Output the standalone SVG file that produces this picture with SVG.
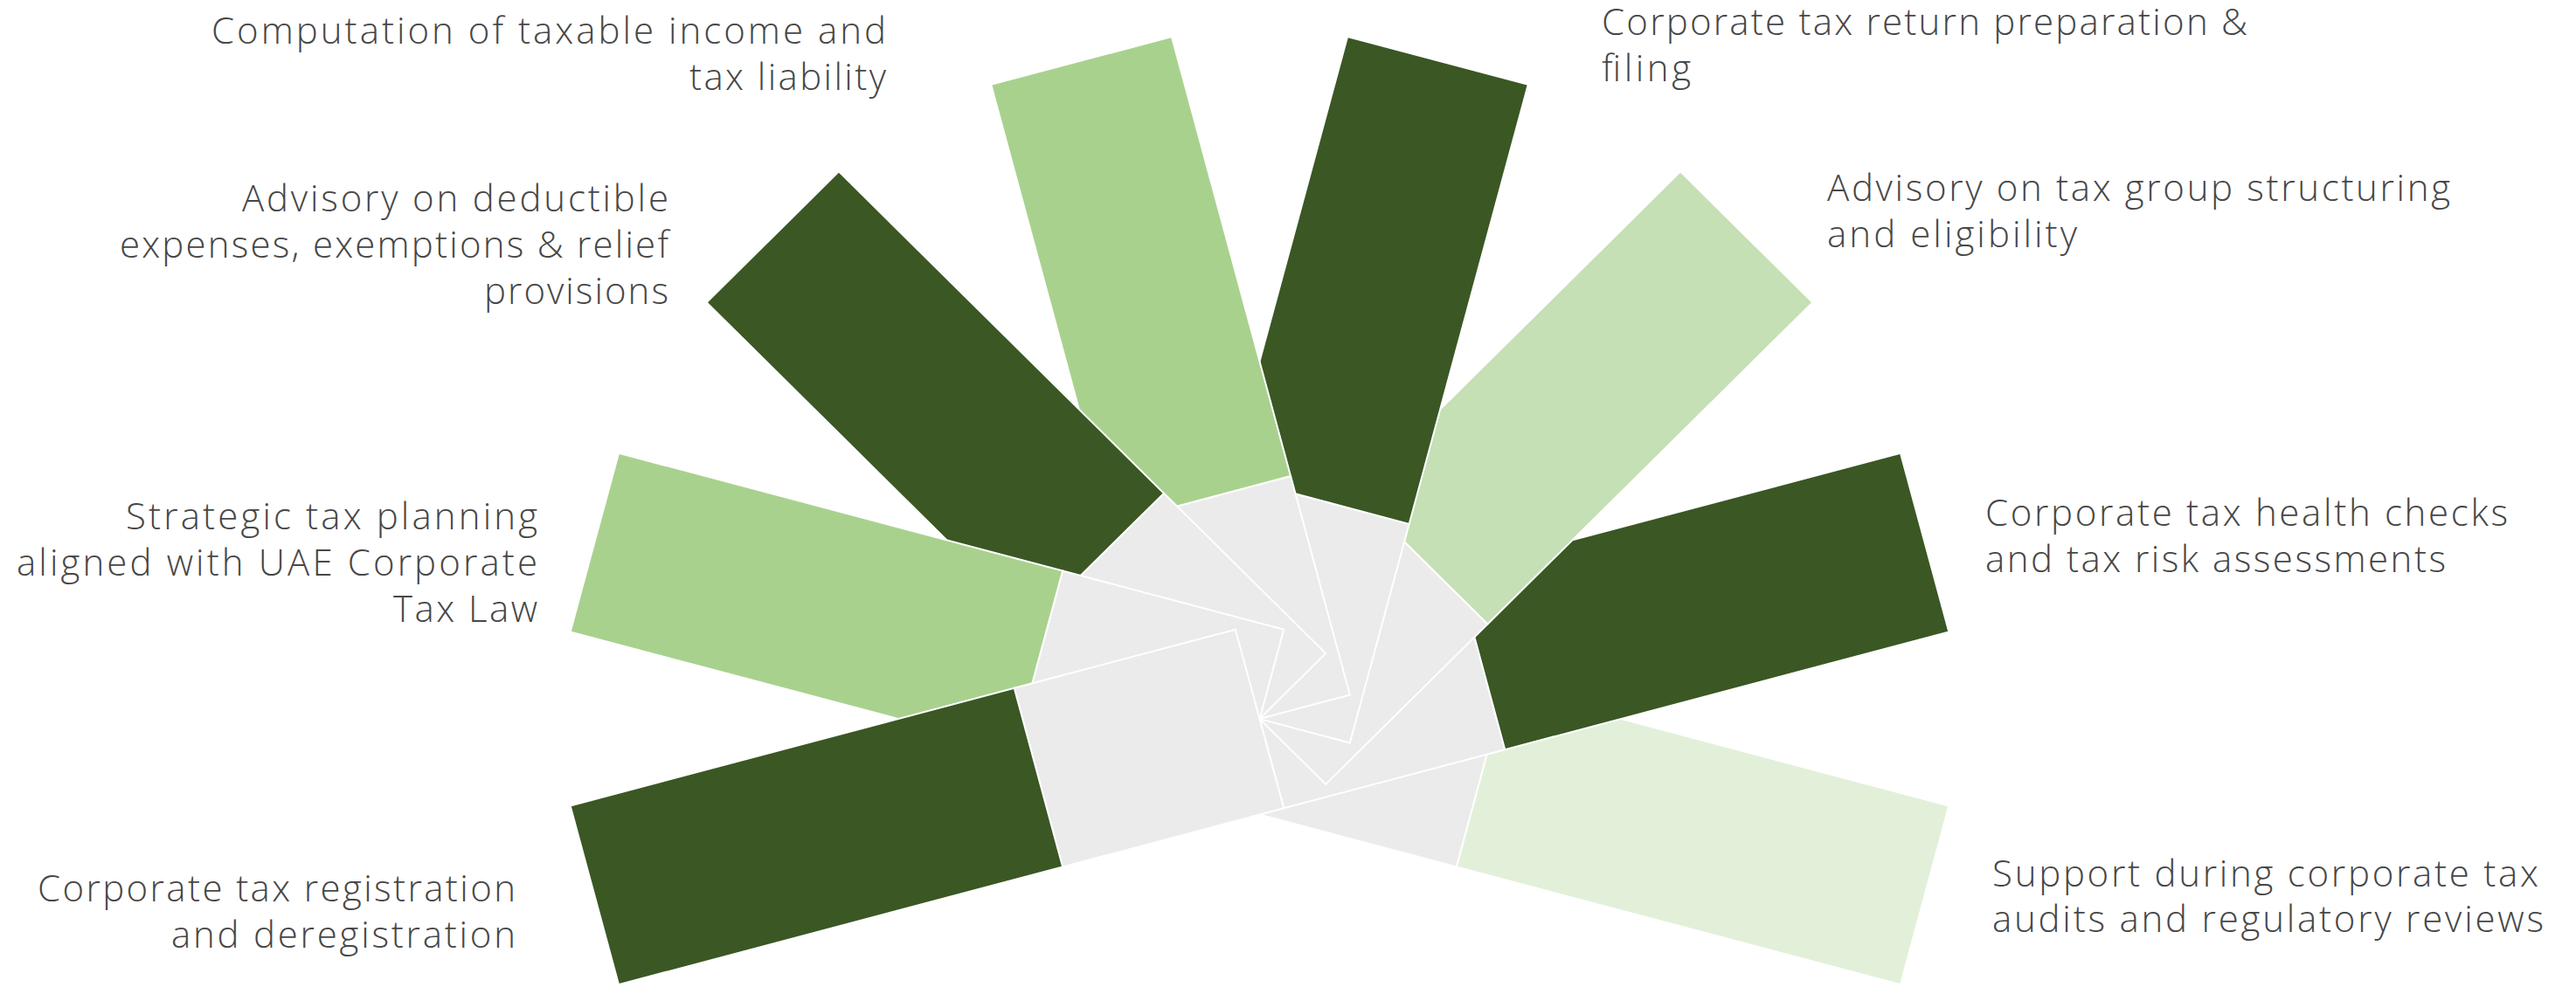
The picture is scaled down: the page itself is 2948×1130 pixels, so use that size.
<svg xmlns="http://www.w3.org/2000/svg" width="2948" height="1130" viewBox="0 0 2948 1130">
<style>
.core{fill:#ebebeb;stroke:#ffffff;stroke-width:2}
.bar{stroke:#ffffff;stroke-width:2}
.dark{fill:#3a5724}
.mid{fill:#a9d18e}
.light{fill:#c5e0b4}
.pale{fill:#e2f0d9}
.lbl{font-family:"Open Sans","Liberation Sans",sans-serif;font-size:42px;font-weight:300;fill:#474747}
.r{text-anchor:end}
</style>
<rect width="2948" height="1130" fill="#ffffff"/>
<g id="connectors"></g>
<g id="n8">
<g transform="translate(1441.5 823) scale(1 0.99) rotate(15)"><rect class="core" x="0" y="-107" width="262" height="214"/><rect class="bar pale" x="262" y="-107" width="526" height="214"/></g>
<text class="lbl"><tspan x="2280" y="1015" textLength="625">Support during corporate tax</tspan><tspan x="2280" y="1067" textLength="631">audits and regulatory reviews</tspan></text>
</g>
<g id="n7">
<g transform="translate(1441.5 823) scale(1 0.99) rotate(345)"><rect class="core" x="0" y="-107" width="262" height="214"/><rect class="bar dark" x="262" y="-107" width="526" height="214"/></g>
<text class="lbl"><tspan x="2272" y="602" textLength="598">Corporate tax health checks</tspan><tspan x="2272" y="655" textLength="527">and tax risk assessments</tspan></text>
</g>
<g id="n6">
<g transform="translate(1441.5 823) scale(1 0.99) rotate(315)"><rect class="core" x="0" y="-107" width="262" height="214"/><rect class="bar light" x="262" y="-107" width="526" height="214"/></g>
<text class="lbl"><tspan x="2091" y="230" textLength="713">Advisory on tax group structuring</tspan><tspan x="2091" y="283" textLength="286">and eligibility</tspan></text>
</g>
<g id="n5">
<g transform="translate(1441.5 823) scale(1 0.99) rotate(285)"><rect class="core" x="0" y="-107" width="262" height="214"/><rect class="bar dark" x="262" y="-107" width="526" height="214"/></g>
<text class="lbl"><tspan x="1833" y="40" textLength="739">Corporate tax return preparation &amp;</tspan><tspan x="1833" y="93" textLength="102">filing</tspan></text>
</g>
<g id="n4">
<g transform="translate(1441.5 823) scale(1 0.99) rotate(255)"><rect class="core" x="0" y="-107" width="262" height="214"/><rect class="bar mid" x="262" y="-107" width="526" height="214"/></g>
<text class="lbl r"><tspan x="1014" y="50" textLength="772">Computation of taxable income and</tspan><tspan x="1014" y="103" textLength="225">tax liability</tspan></text>
</g>
<g id="n3">
<g transform="translate(1441.5 823) scale(1 0.99) rotate(225)"><rect class="core" x="0" y="-107" width="262" height="214"/><rect class="bar dark" x="262" y="-107" width="526" height="214"/></g>
<text class="lbl r"><tspan x="765" y="242" textLength="488">Advisory on deductible</tspan><tspan x="765" y="295" textLength="628">expenses, exemptions &amp; relief</tspan><tspan x="765" y="348" textLength="211">provisions</tspan></text>
</g>
<g id="n2">
<g transform="translate(1441.5 823) scale(1 0.99) rotate(195)"><rect class="core" x="0" y="-107" width="262" height="214"/><rect class="bar mid" x="262" y="-107" width="526" height="214"/></g>
<text class="lbl r"><tspan x="615" y="606" textLength="471">Strategic tax planning</tspan><tspan x="615" y="659" textLength="596">aligned with UAE Corporate</tspan><tspan x="615" y="712" textLength="165">Tax Law</tspan></text>
</g>
<g id="n1">
<g transform="translate(1441.5 823) scale(1 0.99) rotate(165)"><rect class="core" x="0" y="-107" width="262" height="214"/><rect class="bar dark" x="262" y="-107" width="526" height="214"/></g>
<text class="lbl r"><tspan x="590" y="1032" textLength="547">Corporate tax registration</tspan><tspan x="590" y="1085" textLength="394">and deregistration</tspan></text>
</g>
</svg>
